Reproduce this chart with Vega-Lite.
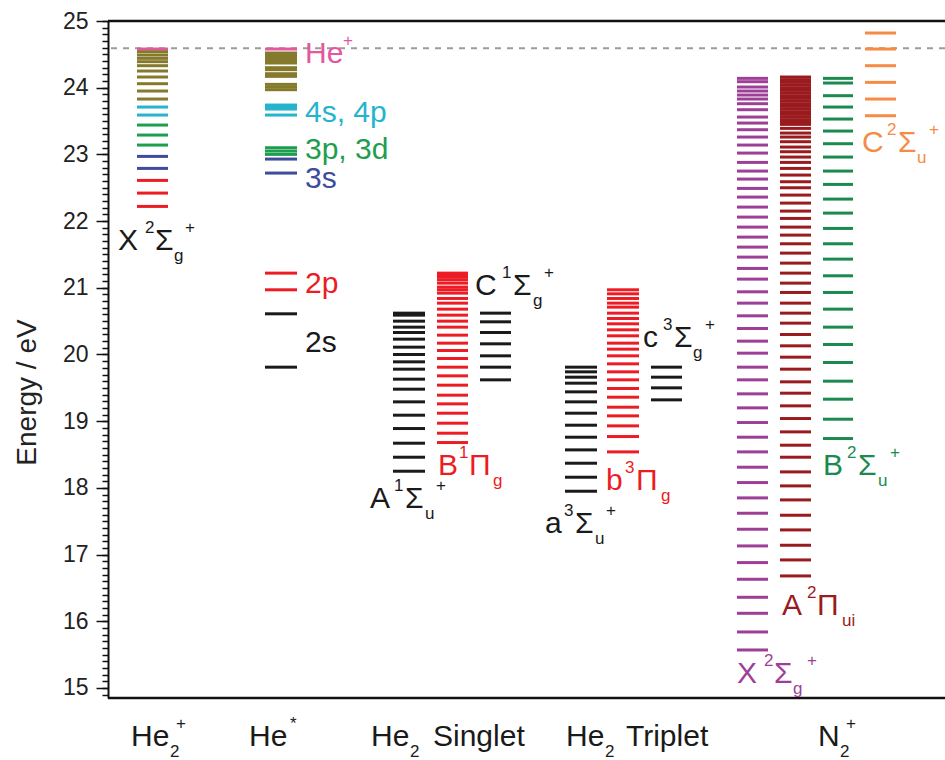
{
  "$schema": "https://vega.github.io/schema/vega-lite/v6.json",
  "width": 837,
  "height": 677,
  "autosize": "none",
  "padding": {"left": 108, "top": 21, "right": 0, "bottom": 62},
  "background": "white",
  "config": {"view": {"stroke": null}, "font": "Liberation Sans"},
  "resolve": {"axis": {"y": "independent"}},
  "datasets": {
    "cols": [
      {"c": "He2+", "x0": 2.9, "x1": 6.0},
      {"c": "He*", "x0": 15.7, "x1": 18.9},
      {"c": "SA", "x0": 28.5, "x1": 31.7},
      {"c": "SB", "x0": 32.9, "x1": 36.0},
      {"c": "SC", "x0": 37.2, "x1": 40.3},
      {"c": "Ta", "x0": 45.7, "x1": 48.9},
      {"c": "Tb", "x0": 49.9, "x1": 53.1},
      {"c": "Tc", "x0": 54.3, "x1": 57.4},
      {"c": "NX", "x0": 62.9, "x1": 66.0},
      {"c": "NA", "x0": 67.2, "x1": 70.3},
      {"c": "NB", "x0": 71.5, "x1": 74.5},
      {"c": "NC", "x0": 75.7, "x1": 78.8}
    ],
    "levels": [
      {"c":"He2+","g":"pk","E":24.58},
      {"c":"He2+","g":"ol","E":24.54},{"c":"He2+","g":"ol","E":24.49},{"c":"He2+","g":"ol","E":24.44},{"c":"He2+","g":"ol","E":24.39},{"c":"He2+","g":"ol","E":24.33},{"c":"He2+","g":"ol","E":24.25},{"c":"He2+","g":"ol","E":24.16},{"c":"He2+","g":"ol","E":24.06},{"c":"He2+","g":"ol","E":23.95},{"c":"He2+","g":"ol","E":23.83},
      {"c":"He2+","g":"cy","E":23.71},{"c":"He2+","g":"cy","E":23.59},
      {"c":"He2+","g":"gr","E":23.44},{"c":"He2+","g":"gr","E":23.29},{"c":"He2+","g":"gr","E":23.14},
      {"c":"He2+","g":"bl","E":22.97},{"c":"He2+","g":"bl","E":22.79},
      {"c":"He2+","g":"rd","E":22.61},{"c":"He2+","g":"rd","E":22.42},{"c":"He2+","g":"rd","E":22.22},

      {"c":"He*","g":"pk","E":24.58},
      {"c":"He*","g":"ol","E":24.52},{"c":"He*","g":"ol","E":24.49},{"c":"He*","g":"ol","E":24.46},{"c":"He*","g":"ol","E":24.43},{"c":"He*","g":"ol","E":24.40},{"c":"He*","g":"ol","E":24.37},
      {"c":"He*","g":"ol","E":24.30},{"c":"He*","g":"ol","E":24.27},{"c":"He*","g":"ol","E":24.21},{"c":"He*","g":"ol","E":24.17},
      {"c":"He*","g":"ol","E":24.05},{"c":"He*","g":"ol","E":24.01},{"c":"He*","g":"ol","E":23.97},
      {"c":"He*","g":"cy","E":23.74},{"c":"He*","g":"cy","E":23.71},{"c":"He*","g":"cy","E":23.68},{"c":"He*","g":"cy","E":23.59},
      {"c":"He*","g":"gr","E":23.10},{"c":"He*","g":"gr","E":23.05},{"c":"He*","g":"gr","E":23.00},
      {"c":"He*","g":"bl","E":22.93},{"c":"He*","g":"bl","E":22.72},
      {"c":"He*","g":"rd","E":21.22},{"c":"He*","g":"rd","E":20.97},
      {"c":"He*","g":"k","E":20.61},{"c":"He*","g":"k","E":19.81},

      {"c":"SA","g":"k","E":20.62},{"c":"SA","g":"k","E":20.59},{"c":"SA","g":"k","E":20.50},{"c":"SA","g":"k","E":20.41},{"c":"SA","g":"k","E":20.33},{"c":"SA","g":"k","E":20.23},{"c":"SA","g":"k","E":20.11},{"c":"SA","g":"k","E":20.00},{"c":"SA","g":"k","E":19.89},{"c":"SA","g":"k","E":19.78},{"c":"SA","g":"k","E":19.63},{"c":"SA","g":"k","E":19.48},{"c":"SA","g":"k","E":19.29},{"c":"SA","g":"k","E":19.09},{"c":"SA","g":"k","E":18.89},{"c":"SA","g":"k","E":18.67},{"c":"SA","g":"k","E":18.46},{"c":"SA","g":"k","E":18.25},

      {"c":"SB","g":"rd","E":21.22},{"c":"SB","g":"rd","E":21.19},{"c":"SB","g":"rd","E":21.16},{"c":"SB","g":"rd","E":21.12},{"c":"SB","g":"rd","E":21.07},{"c":"SB","g":"rd","E":21.01},{"c":"SB","g":"rd","E":20.97},{"c":"SB","g":"rd","E":20.92},{"c":"SB","g":"rd","E":20.84},{"c":"SB","g":"rd","E":20.77},{"c":"SB","g":"rd","E":20.68},{"c":"SB","g":"rd","E":20.59},{"c":"SB","g":"rd","E":20.50},{"c":"SB","g":"rd","E":20.41},{"c":"SB","g":"rd","E":20.29},{"c":"SB","g":"rd","E":20.17},{"c":"SB","g":"rd","E":20.06},{"c":"SB","g":"rd","E":19.94},{"c":"SB","g":"rd","E":19.81},{"c":"SB","g":"rd","E":19.68},{"c":"SB","g":"rd","E":19.54},{"c":"SB","g":"rd","E":19.39},{"c":"SB","g":"rd","E":19.26},{"c":"SB","g":"rd","E":19.12},{"c":"SB","g":"rd","E":18.97},{"c":"SB","g":"rd","E":18.82},{"c":"SB","g":"rd","E":18.68},

      {"c":"SC","g":"k","E":20.62},{"c":"SC","g":"k","E":20.49},{"c":"SC","g":"k","E":20.33},{"c":"SC","g":"k","E":20.16},{"c":"SC","g":"k","E":19.98},{"c":"SC","g":"k","E":19.81},{"c":"SC","g":"k","E":19.62},

      {"c":"Ta","g":"k","E":19.81},{"c":"Ta","g":"k","E":19.74},{"c":"Ta","g":"k","E":19.66},{"c":"Ta","g":"k","E":19.57},{"c":"Ta","g":"k","E":19.44},{"c":"Ta","g":"k","E":19.29},{"c":"Ta","g":"k","E":19.12},{"c":"Ta","g":"k","E":18.94},{"c":"Ta","g":"k","E":18.76},{"c":"Ta","g":"k","E":18.57},{"c":"Ta","g":"k","E":18.37},{"c":"Ta","g":"k","E":18.16},{"c":"Ta","g":"k","E":17.95},

      {"c":"Tb","g":"rd","E":20.97},{"c":"Tb","g":"rd","E":20.91},{"c":"Tb","g":"rd","E":20.84},{"c":"Tb","g":"rd","E":20.77},{"c":"Tb","g":"rd","E":20.71},{"c":"Tb","g":"rd","E":20.62},{"c":"Tb","g":"rd","E":20.54},{"c":"Tb","g":"rd","E":20.46},{"c":"Tb","g":"rd","E":20.37},{"c":"Tb","g":"rd","E":20.28},{"c":"Tb","g":"rd","E":20.17},{"c":"Tb","g":"rd","E":20.08},{"c":"Tb","g":"rd","E":19.98},{"c":"Tb","g":"rd","E":19.86},{"c":"Tb","g":"rd","E":19.74},{"c":"Tb","g":"rd","E":19.62},{"c":"Tb","g":"rd","E":19.49},{"c":"Tb","g":"rd","E":19.36},{"c":"Tb","g":"rd","E":19.21},{"c":"Tb","g":"rd","E":19.08},{"c":"Tb","g":"rd","E":18.93},{"c":"Tb","g":"rd","E":18.77},{"c":"Tb","g":"rd","E":18.54},

      {"c":"Tc","g":"k","E":19.81},{"c":"Tc","g":"k","E":19.66},{"c":"Tc","g":"k","E":19.50},{"c":"Tc","g":"k","E":19.32},

      {"c":"NX","g":"pu","E":24.14},{"c":"NX","g":"pu","E":24.09},{"c":"NX","g":"pu","E":24.01},{"c":"NX","g":"pu","E":23.95},{"c":"NX","g":"pu","E":23.89},{"c":"NX","g":"pu","E":23.83},{"c":"NX","g":"pu","E":23.76},{"c":"NX","g":"pu","E":23.67},{"c":"NX","g":"pu","E":23.56},{"c":"NX","g":"pu","E":23.47},{"c":"NX","g":"pu","E":23.37},{"c":"NX","g":"pu","E":23.26},{"c":"NX","g":"pu","E":23.14},{"c":"NX","g":"pu","E":23.02},{"c":"NX","g":"pu","E":22.88},{"c":"NX","g":"pu","E":22.75},{"c":"NX","g":"pu","E":22.63},{"c":"NX","g":"pu","E":22.49},{"c":"NX","g":"pu","E":22.36},{"c":"NX","g":"pu","E":22.21},{"c":"NX","g":"pu","E":22.06},{"c":"NX","g":"pu","E":21.91},{"c":"NX","g":"pu","E":21.76},{"c":"NX","g":"pu","E":21.61},{"c":"NX","g":"pu","E":21.46},{"c":"NX","g":"pu","E":21.29},{"c":"NX","g":"pu","E":21.13},{"c":"NX","g":"pu","E":20.94},{"c":"NX","g":"pu","E":20.77},{"c":"NX","g":"pu","E":20.58},{"c":"NX","g":"pu","E":20.39},{"c":"NX","g":"pu","E":20.20},{"c":"NX","g":"pu","E":20.02},{"c":"NX","g":"pu","E":19.81},{"c":"NX","g":"pu","E":19.62},{"c":"NX","g":"pu","E":19.41},{"c":"NX","g":"pu","E":19.20},{"c":"NX","g":"pu","E":18.98},{"c":"NX","g":"pu","E":18.76},{"c":"NX","g":"pu","E":18.54},{"c":"NX","g":"pu","E":18.31},{"c":"NX","g":"pu","E":18.08},{"c":"NX","g":"pu","E":17.85},{"c":"NX","g":"pu","E":17.62},{"c":"NX","g":"pu","E":17.38},{"c":"NX","g":"pu","E":17.13},{"c":"NX","g":"pu","E":16.88},{"c":"NX","g":"pu","E":16.63},{"c":"NX","g":"pu","E":16.36},{"c":"NX","g":"pu","E":16.12},{"c":"NX","g":"pu","E":15.84},{"c":"NX","g":"pu","E":15.57},

      {"c":"NA","g":"dr","E":24.16},{"c":"NA","g":"dr","E":24.12},{"c":"NA","g":"dr","E":24.08},{"c":"NA","g":"dr","E":24.04},{"c":"NA","g":"dr","E":24.00},{"c":"NA","g":"dr","E":23.96},{"c":"NA","g":"dr","E":23.92},{"c":"NA","g":"dr","E":23.88},{"c":"NA","g":"dr","E":23.84},{"c":"NA","g":"dr","E":23.80},{"c":"NA","g":"dr","E":23.76},{"c":"NA","g":"dr","E":23.72},{"c":"NA","g":"dr","E":23.68},{"c":"NA","g":"dr","E":23.64},{"c":"NA","g":"dr","E":23.60},{"c":"NA","g":"dr","E":23.56},{"c":"NA","g":"dr","E":23.52},{"c":"NA","g":"dr","E":23.48},{"c":"NA","g":"dr","E":23.45},
      {"c":"NA","g":"dr","E":23.39},{"c":"NA","g":"dr","E":23.32},{"c":"NA","g":"dr","E":23.26},{"c":"NA","g":"dr","E":23.19},{"c":"NA","g":"dr","E":23.11},{"c":"NA","g":"dr","E":23.04},{"c":"NA","g":"dr","E":22.96},{"c":"NA","g":"dr","E":22.88},{"c":"NA","g":"dr","E":22.79},{"c":"NA","g":"dr","E":22.69},{"c":"NA","g":"dr","E":22.59},{"c":"NA","g":"dr","E":22.50},{"c":"NA","g":"dr","E":22.39},{"c":"NA","g":"dr","E":22.27},{"c":"NA","g":"dr","E":22.15},{"c":"NA","g":"dr","E":22.04},{"c":"NA","g":"dr","E":21.91},{"c":"NA","g":"dr","E":21.79},{"c":"NA","g":"dr","E":21.66},{"c":"NA","g":"dr","E":21.52},{"c":"NA","g":"dr","E":21.37},{"c":"NA","g":"dr","E":21.22},{"c":"NA","g":"dr","E":21.07},{"c":"NA","g":"dr","E":20.93},{"c":"NA","g":"dr","E":20.77},{"c":"NA","g":"dr","E":20.62},{"c":"NA","g":"dr","E":20.47},{"c":"NA","g":"dr","E":20.30},{"c":"NA","g":"dr","E":20.13},{"c":"NA","g":"dr","E":19.96},{"c":"NA","g":"dr","E":19.78},{"c":"NA","g":"dr","E":19.59},{"c":"NA","g":"dr","E":19.42},{"c":"NA","g":"dr","E":19.23},{"c":"NA","g":"dr","E":19.04},{"c":"NA","g":"dr","E":18.84},{"c":"NA","g":"dr","E":18.64},{"c":"NA","g":"dr","E":18.46},{"c":"NA","g":"dr","E":18.24},{"c":"NA","g":"dr","E":18.03},{"c":"NA","g":"dr","E":17.82},{"c":"NA","g":"dr","E":17.59},{"c":"NA","g":"dr","E":17.37},{"c":"NA","g":"dr","E":17.14},{"c":"NA","g":"dr","E":16.92},{"c":"NA","g":"dr","E":16.68},

      {"c":"NB","g":"ng","E":24.14},{"c":"NB","g":"ng","E":24.07},{"c":"NB","g":"ng","E":23.88},{"c":"NB","g":"ng","E":23.71},{"c":"NB","g":"ng","E":23.53},{"c":"NB","g":"ng","E":23.35},{"c":"NB","g":"ng","E":23.16},{"c":"NB","g":"ng","E":22.96},{"c":"NB","g":"ng","E":22.75},{"c":"NB","g":"ng","E":22.55},{"c":"NB","g":"ng","E":22.33},{"c":"NB","g":"ng","E":22.12},{"c":"NB","g":"ng","E":21.89},{"c":"NB","g":"ng","E":21.66},{"c":"NB","g":"ng","E":21.43},{"c":"NB","g":"ng","E":21.18},{"c":"NB","g":"ng","E":20.93},{"c":"NB","g":"ng","E":20.68},{"c":"NB","g":"ng","E":20.41},{"c":"NB","g":"ng","E":20.15},{"c":"NB","g":"ng","E":19.88},{"c":"NB","g":"ng","E":19.60},{"c":"NB","g":"ng","E":19.33},{"c":"NB","g":"ng","E":19.03},{"c":"NB","g":"ng","E":18.74},

      {"c":"NC","g":"or","E":24.82},{"c":"NC","g":"or","E":24.58},{"c":"NC","g":"or","E":24.33},{"c":"NC","g":"or","E":24.08},{"c":"NC","g":"or","E":23.83},{"c":"NC","g":"or","E":23.58}
    ],
    "txt": [
      {"t":"X","x":1.0,"E":21.565,"r":"m","g":"k"},{"t":"2","x":3.7,"E":21.565,"r":"p","g":"k"},{"t":"Σ","x":4.7,"E":21.565,"r":"m","g":"k"},{"t":"g","x":6.6,"E":21.565,"r":"b","g":"k"},{"t":"+","x":7.7,"E":21.565,"r":"p","g":"k"},
      {"t":"He","x":19.7,"E":24.37,"r":"m","g":"pk"},{"t":"+","x":23.5,"E":24.37,"r":"p","g":"pk"},
      {"t":"4s, 4p","x":19.7,"E":23.485,"r":"m","g":"cy"},
      {"t":"3p, 3d","x":19.7,"E":22.93,"r":"m","g":"gr"},
      {"t":"3s","x":19.7,"E":22.495,"r":"m","g":"bl"},
      {"t":"2p","x":19.7,"E":20.92,"r":"m","g":"rd"},
      {"t":"2s","x":19.7,"E":20.035,"r":"m","g":"k"},
      {"t":"C","x":36.7,"E":20.89,"r":"m","g":"k"},{"t":"1","x":39.4,"E":20.89,"r":"p","g":"k"},{"t":"Σ","x":40.5,"E":20.89,"r":"m","g":"k"},{"t":"g","x":42.5,"E":20.89,"r":"b","g":"k"},{"t":"+","x":43.6,"E":20.89,"r":"p","g":"k"},
      {"t":"B","x":33.0,"E":18.19,"r":"m","g":"rd"},{"t":"1","x":35.1,"E":18.19,"r":"p","g":"rd"},{"t":"Π","x":36.1,"E":18.19,"r":"m","g":"rd"},{"t":"g","x":38.5,"E":18.19,"r":"b","g":"rd"},
      {"t":"A","x":26.2,"E":17.695,"r":"m","g":"k"},{"t":"1","x":28.6,"E":17.695,"r":"p","g":"k"},{"t":"Σ","x":29.7,"E":17.695,"r":"m","g":"k"},{"t":"u","x":31.7,"E":17.695,"r":"b","g":"k"},{"t":"+","x":32.8,"E":17.695,"r":"p","g":"k"},
      {"t":"c","x":53.5,"E":20.11,"r":"m","g":"k"},{"t":"3","x":55.5,"E":20.11,"r":"p","g":"k"},{"t":"Σ","x":56.6,"E":20.11,"r":"m","g":"k"},{"t":"g","x":58.5,"E":20.11,"r":"b","g":"k"},{"t":"+","x":59.7,"E":20.11,"r":"p","g":"k"},
      {"t":"b","x":49.8,"E":17.965,"r":"m","g":"rd"},{"t":"3","x":51.7,"E":17.965,"r":"p","g":"rd"},{"t":"Π","x":52.8,"E":17.965,"r":"m","g":"rd"},{"t":"g","x":55.3,"E":17.965,"r":"b","g":"rd"},
      {"t":"a","x":43.7,"E":17.32,"r":"m","g":"k"},{"t":"3","x":45.6,"E":17.32,"r":"p","g":"k"},{"t":"Σ","x":46.7,"E":17.32,"r":"m","g":"k"},{"t":"u","x":48.7,"E":17.32,"r":"b","g":"k"},{"t":"+","x":49.8,"E":17.32,"r":"p","g":"k"},
      {"t":"C","x":75.4,"E":23.035,"r":"m","g":"or"},{"t":"2","x":77.9,"E":23.035,"r":"p","g":"or"},{"t":"Σ","x":79.0,"E":23.035,"r":"m","g":"or"},{"t":"u","x":80.9,"E":23.035,"r":"b","g":"or"},{"t":"+","x":82.1,"E":23.035,"r":"p","g":"or"},
      {"t":"B","x":71.5,"E":18.19,"r":"m","g":"ng"},{"t":"2","x":73.9,"E":18.19,"r":"p","g":"ng"},{"t":"Σ","x":75.0,"E":18.19,"r":"m","g":"ng"},{"t":"u","x":77.0,"E":18.19,"r":"b","g":"ng"},{"t":"+","x":78.2,"E":18.19,"r":"p","g":"ng"},
      {"t":"A","x":67.4,"E":16.09,"r":"m","g":"dr"},{"t":"2","x":69.9,"E":16.09,"r":"p","g":"dr"},{"t":"Π","x":70.9,"E":16.09,"r":"m","g":"dr"},{"t":"ui","x":73.4,"E":16.09,"r":"b","g":"dr"},
      {"t":"X","x":62.9,"E":15.07,"r":"m","g":"pu"},{"t":"2","x":65.6,"E":15.07,"r":"p","g":"pu"},{"t":"Σ","x":66.6,"E":15.07,"r":"m","g":"pu"},{"t":"g","x":68.5,"E":15.07,"r":"b","g":"pu"},{"t":"+","x":69.9,"E":15.07,"r":"p","g":"pu"},
      {"t":"He","x":2.3,"E":14.125,"r":"m","g":"k"},{"t":"2","x":6.2,"E":14.125,"r":"b","g":"k"},{"t":"+","x":6.8,"E":14.125,"r":"p","g":"k"},
      {"t":"He","x":14.1,"E":14.125,"r":"m","g":"k"},{"t":"*","x":18.2,"E":14.125,"r":"p","g":"k"},
      {"t":"He","x":26.3,"E":14.125,"r":"m","g":"k"},{"t":"2","x":30.2,"E":14.125,"r":"b","g":"k"},{"t":"Singlet","x":32.5,"E":14.125,"r":"m","g":"k"},
      {"t":"He","x":45.8,"E":14.125,"r":"m","g":"k"},{"t":"2","x":49.7,"E":14.125,"r":"b","g":"k"},{"t":"Triplet","x":51.8,"E":14.125,"r":"m","g":"k"},
      {"t":"N","x":71.0,"E":14.125,"r":"m","g":"k"},{"t":"2","x":73.2,"E":14.125,"r":"b","g":"k"},{"t":"+","x":73.8,"E":14.125,"r":"p","g":"k"}
    ]
  },
  "layer": [
    {
      "data": {"values": [{"limit": "He ionization", "E": 24.59}]},
      "mark": {"type": "rule", "color": "#9c9c9c", "strokeDash": [6, 6], "strokeWidth": 2},
      "encoding": {
        "y": {
          "field": "E", "type": "quantitative",
          "scale": {"domain": [14.85, 25], "nice": false, "zero": false},
          "axis": {
            "orient": "left",
            "values": [14.9,15,15.1,15.2,15.3,15.4,15.5,15.6,15.7,15.8,15.9,16,16.1,16.2,16.3,16.4,16.5,16.6,16.7,16.8,16.9,17,17.1,17.2,17.3,17.4,17.5,17.6,17.7,17.8,17.9,18,18.1,18.2,18.3,18.4,18.5,18.6,18.7,18.8,18.9,19,19.1,19.2,19.3,19.4,19.5,19.6,19.7,19.8,19.9,20,20.1,20.2,20.3,20.4,20.5,20.6,20.7,20.8,20.9,21,21.1,21.2,21.3,21.4,21.5,21.6,21.7,21.8,21.9,22,22.1,22.2,22.3,22.4,22.5,22.6,22.7,22.8,22.9,23,23.1,23.2,23.3,23.4,23.5,23.6,23.7,23.8,23.9,24,24.1,24.2,24.3,24.4,24.5,24.6,24.7,24.8,24.9,25],
            "labels": false,
            "title": null,
            "domain": false,
            "grid": false,
            "tickSize": 6,
            "tickWidth": 1.5,
            "tickColor": "#111"
          }
        }
      }
    },
    {
      "data": {"name": "levels"},
      "transform": [{"lookup": "c", "from": {"data": {"name": "cols"}, "key": "c", "fields": ["x0", "x1"]}}],
      "mark": {"type": "rule", "strokeWidth": 3, "strokeCap": "butt"},
      "encoding": {
        "x": {"field": "x0", "type": "quantitative", "scale": {"domain": [0, 83.7], "nice": false, "zero": false}, "axis": null},
        "x2": {"field": "x1"},
        "y": {
          "field": "E", "type": "quantitative",
          "scale": {"domain": [14.85, 25], "nice": false, "zero": false},
          "axis": {
            "orient": "left",
            "title": "Energy / eV",
            "values": [15, 16, 17, 18, 19, 20, 21, 22, 23, 24, 25],
            "format": "d",
            "tickSize": 12,
            "tickWidth": 1.5,
            "tickColor": "#111",
            "domainColor": "#111",
            "domainWidth": 2,
            "labelFont": "Liberation Sans",
            "labelFontSize": 23,
            "labelColor": "#222",
            "labelPadding": 8,
            "labelFlush": false,
            "labelOverlap": false,
            "grid": false,
            "titleFont": "Liberation Sans",
            "titleFontSize": 28,
            "titleFontWeight": "normal",
            "titleColor": "#222",
            "titleAngle": -90,
            "titleAlign": "center",
            "titleBaseline": "alphabetic",
            "titleX": -73,
            "titleY": 371
          }
        },
        "color": {
          "field": "g", "type": "nominal", "legend": null,
          "scale": {
            "domain": ["pk","ol","cy","gr","bl","rd","k","pu","dr","ng","or"],
            "range": ["#E2579F","#857A2C","#26B3CE","#1E9E4E","#3D4C9C","#ED1C24","#1A1A1A","#9E3F97","#9A1B1E","#1B8A4E","#F58B45"]
          }
        }
      }
    },
    {
      "data": {"values": [{"edge": "top", "E": 25}, {"edge": "bottom", "E": 14.85}]},
      "mark": {"type": "rule", "color": "#111", "strokeWidth": 2.5},
      "encoding": {
        "y": {"field": "E", "type": "quantitative", "scale": {"domain": [14.85, 25], "nice": false, "zero": false}, "axis": null}
      }
    },
    {
      "data": {"name": "txt"},
      "transform": [{"filter": "datum.r === 'm'"}],
      "mark": {"type": "text", "align": "left", "baseline": "alphabetic", "fontSize": 30, "font": "Liberation Sans", "clip": false},
      "encoding": {
        "x": {"field": "x", "type": "quantitative", "scale": {"domain": [0, 83.7], "nice": false, "zero": false}, "axis": null},
        "y": {"field": "E", "type": "quantitative", "scale": {"domain": [14.85, 25], "nice": false, "zero": false}, "axis": null},
        "text": {"field": "t"},
        "color": {"field": "g", "type": "nominal", "legend": null}
      }
    },
    {
      "data": {"name": "txt"},
      "transform": [{"filter": "datum.r === 'p'"}],
      "mark": {"type": "text", "align": "left", "baseline": "alphabetic", "fontSize": 17, "dy": -17, "font": "Liberation Sans", "clip": false},
      "encoding": {
        "x": {"field": "x", "type": "quantitative", "scale": {"domain": [0, 83.7], "nice": false, "zero": false}, "axis": null},
        "y": {"field": "E", "type": "quantitative", "scale": {"domain": [14.85, 25], "nice": false, "zero": false}, "axis": null},
        "text": {"field": "t"},
        "color": {"field": "g", "type": "nominal", "legend": null}
      }
    },
    {
      "data": {"name": "txt"},
      "transform": [{"filter": "datum.r === 'b'"}],
      "mark": {"type": "text", "align": "left", "baseline": "alphabetic", "fontSize": 17, "dy": 11, "font": "Liberation Sans", "clip": false},
      "encoding": {
        "x": {"field": "x", "type": "quantitative", "scale": {"domain": [0, 83.7], "nice": false, "zero": false}, "axis": null},
        "y": {"field": "E", "type": "quantitative", "scale": {"domain": [14.85, 25], "nice": false, "zero": false}, "axis": null},
        "text": {"field": "t"},
        "color": {"field": "g", "type": "nominal", "legend": null}
      }
    }
  ]
}
